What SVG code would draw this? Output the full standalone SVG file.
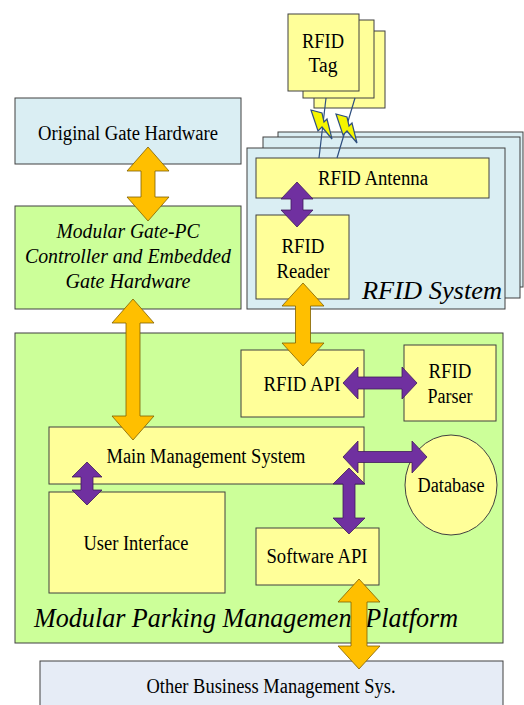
<svg xmlns="http://www.w3.org/2000/svg" width="524" height="705" viewBox="0 0 524 705">
<style>
.box{stroke:#404040;stroke-width:1}
.yel{fill:#ffff99}
.grn{fill:#ccff99}
.blu{fill:#daeef3}
.lav{fill:#e6ecf6}
.t{font-family:"Liberation Serif",Tinos,"Times New Roman","Noto Serif","DejaVu Serif",serif;font-size:20px;fill:#000;text-anchor:middle}
.ti{font-family:"Liberation Serif",Tinos,"Times New Roman","Noto Serif","DejaVu Serif",serif;font-style:italic;fill:#000}
.or{fill:#ffbf00;stroke:#7f6000;stroke-width:0.8}
.pu{fill:#7030a0;stroke:#3f1a5c;stroke-width:0.8}
.bolt{fill:#f5f500;stroke:#2f4f7f;stroke-width:1.2;stroke-linejoin:miter}
.wire{stroke:#2f4f7f;stroke-width:1.2;fill:none}
</style>

<g id="rfid-system">
  <rect class="box blu" x="278" y="132" width="245" height="155"/>
  <rect class="box blu" x="263" y="137" width="257" height="161"/>
  <rect class="box blu" x="247" y="148" width="258" height="161"/>
  <text class="ti" x="362" y="299" font-size="26" textLength="140" lengthAdjust="spacingAndGlyphs">RFID System</text>
</g>

<g id="rfid-tag">
  <rect class="box yel" x="314" y="31" width="71" height="77"/>
  <rect class="box yel" x="303" y="20" width="71" height="78"/>
  <rect class="box yel" x="288" y="14" width="71" height="77"/>
  <text class="t" x="323" y="48" textLength="42" lengthAdjust="spacingAndGlyphs">RFID</text>
  <text class="t" x="323" y="72" textLength="29" lengthAdjust="spacingAndGlyphs">Tag</text>
</g>

<g id="rfid-antenna">
  <rect class="box yel" x="256" y="158" width="233" height="40"/>
  <text class="t" x="373" y="185" textLength="110" lengthAdjust="spacingAndGlyphs">RFID Antenna</text>
</g>

<g id="rfid-reader">
  <rect class="box yel" x="256" y="215" width="93" height="84"/>
  <text class="t" x="303" y="253" textLength="43" lengthAdjust="spacingAndGlyphs">RFID</text>
  <text class="t" x="303" y="278" textLength="53" lengthAdjust="spacingAndGlyphs">Reader</text>
</g>

<g id="original-gate-hardware">
  <rect class="box blu" x="15" y="98" width="226" height="66"/>
  <text class="t" x="128" y="140" textLength="180" lengthAdjust="spacingAndGlyphs">Original Gate Hardware</text>
</g>

<g id="modular-gate-pc">
  <rect class="box grn" x="15" y="206" width="226" height="103"/>
  <text class="ti" x="128" y="238" font-size="20" text-anchor="middle" textLength="143" lengthAdjust="spacingAndGlyphs">Modular Gate-PC</text>
  <text class="ti" x="128" y="263" font-size="20" text-anchor="middle" textLength="206" lengthAdjust="spacingAndGlyphs">Controller and Embedded</text>
  <text class="ti" x="128" y="288" font-size="20" text-anchor="middle" textLength="125" lengthAdjust="spacingAndGlyphs">Gate Hardware</text>
</g>

<g id="parking-platform">
  <rect class="box grn" x="15" y="333" width="488" height="310"/>
  <text class="ti" x="34" y="627" font-size="27" textLength="424" lengthAdjust="spacingAndGlyphs">Modular Parking Management Platform</text>
</g>

<g id="rfid-api">
  <rect class="box yel" x="241" y="350" width="123" height="67"/>
  <text class="t" x="302" y="391" textLength="77" lengthAdjust="spacingAndGlyphs">RFID API</text>
</g>

<g id="rfid-parser">
  <rect class="box yel" x="404" y="345" width="92" height="76"/>
  <text class="t" x="450" y="378" textLength="43" lengthAdjust="spacingAndGlyphs">RFID</text>
  <text class="t" x="450" y="403" textLength="45" lengthAdjust="spacingAndGlyphs">Parser</text>
</g>

<g id="main-management-system">
  <rect class="box yel" x="49" y="427" width="315" height="57"/>
  <text class="t" x="206" y="463" textLength="199" lengthAdjust="spacingAndGlyphs">Main Management System</text>
</g>

<g id="user-interface">
  <rect class="box yel" x="49" y="492" width="176" height="101"/>
  <text class="t" x="136" y="550" textLength="105" lengthAdjust="spacingAndGlyphs">User Interface</text>
</g>

<g id="database">
  <ellipse class="box yel" cx="451" cy="485" rx="46" ry="50"/>
  <text class="t" x="451" y="492" textLength="67" lengthAdjust="spacingAndGlyphs">Database</text>
</g>

<g id="software-api">
  <rect class="box yel" x="256" y="528" width="123" height="57"/>
  <text class="t" x="317" y="563" textLength="101" lengthAdjust="spacingAndGlyphs">Software API</text>
</g>

<g id="other-business">
  <rect class="box lav" x="40" y="661" width="463" height="50"/>
  <text class="t" x="271" y="693" textLength="249" lengthAdjust="spacingAndGlyphs">Other Business Management Sys.</text>
</g>

<g id="connectors">
  <line class="wire" x1="326" y1="98" x2="319" y2="158"/>
  <line class="wire" x1="355" y1="98" x2="337" y2="158"/>
  <polygon class="bolt" points="311,110 322,113 324,122 327,119 332,139 322,127 318,131"/>
  <polygon class="bolt" transform="translate(25,4)" points="311,110 322,113 324,122 327,119 332,139 322,127 318,131"/>

  <polygon class="or" points="148,147 169,171 155,171 155,197 169,197 148,221 127,197 141,197 141,171 127,171"/>
  <polygon class="or" points="133,299 154,323 140,323 140,416 154,416 133,440 112,416 126,416 126,323 112,323"/>
  <polygon class="or" points="303,283 324,306 310.5,306 310.5,343 324,343 303,366 282,343 295.5,343 295.5,306 282,306"/>
  <polygon class="or" points="359,579 380,602 367,602 367,646 380,646 359,669 338,646 351,646 351,602 338,602"/>

  <polygon class="pu" points="297,182 313,199 303,199 303,210 313,210 297,227 281,210 291,210 291,199 281,199"/>
  <polygon class="pu" points="343,383 358,367 358,377 402,377 402,367 417,383 402,399 402,389 358,389 358,399"/>
  <polygon class="pu" points="87,462 102,477 93,477 93,490 102,490 87,505 72,490 81,490 81,477 72,477"/>
  <polygon class="pu" points="343,457 358,441 358,451.5 412,451.5 412,441 427,457 412,473 412,462.5 358,462.5 358,473"/>
  <polygon class="pu" points="349,468 365,484 355,484 355,518 365,518 349,534 333,518 343,518 343,484 333,484"/>
</g>
</svg>
